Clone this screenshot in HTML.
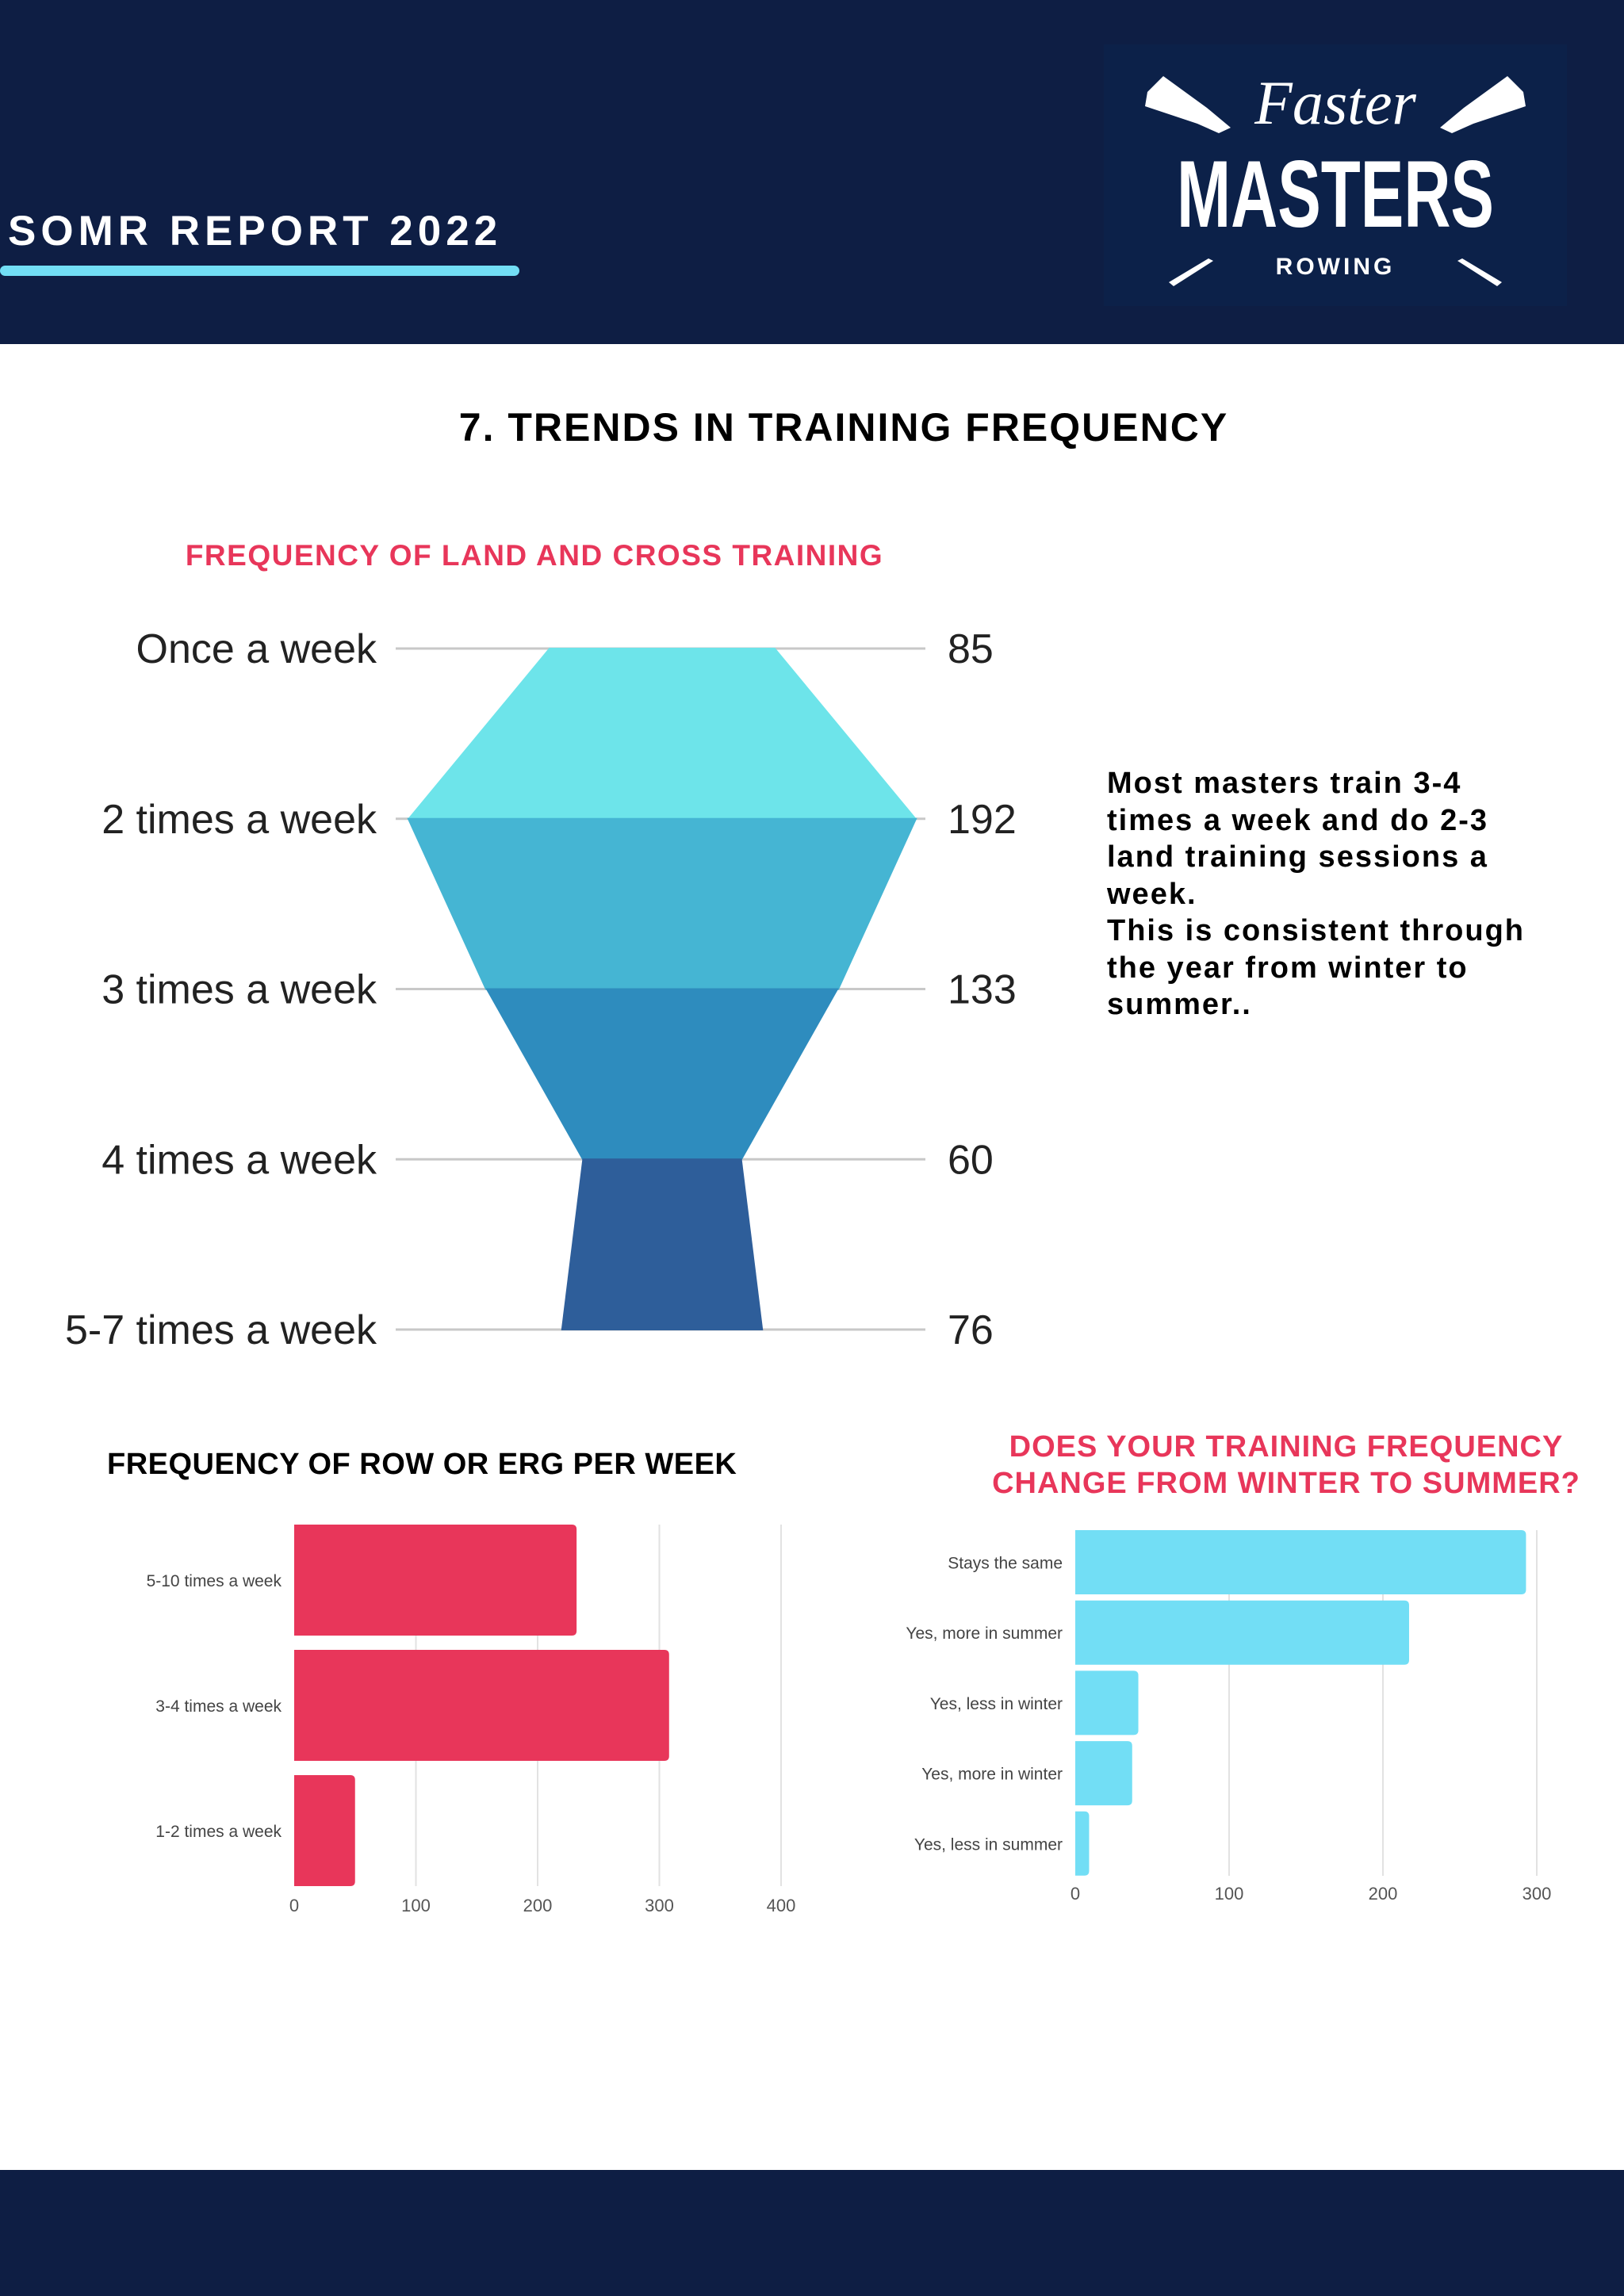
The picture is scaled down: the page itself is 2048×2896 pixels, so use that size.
<!DOCTYPE html>
<html><head><meta charset="utf-8"><style>
body{margin:0;width:2048px;height:2896px;background:#fff;position:relative;overflow:hidden;font-family:"Liberation Sans",sans-serif}
.abs{position:absolute}
</style></head><body>
<div class="abs" style="left:0;top:0;width:2048px;height:434px;background:#0e1e44"></div>
<div class="abs" style="left:10px;top:262px;font-size:53px;font-weight:bold;color:#fff;letter-spacing:6px;line-height:60px">SOMR REPORT 2022</div>
<div class="abs" style="left:0;top:335px;width:655px;height:13px;border-radius:7px;background:#72def5"></div>
<div class="abs" style="left:1392px;top:56px;width:584px;height:330px;background:#0c2149">
 <svg width="584" height="330">
  <g fill="#fff"><polygon points="55,60 75,40 130,80 160,105 145,112 118,100 52,78"/><polygon points="529,60 509,40 454,80 424,105 439,112 466,100 532,78"/>
  <polygon points="82,300 88,305 138,273 132,270"/><polygon points="502,300 496,305 446,273 452,270"/></g>
  <text x="292" y="100" text-anchor="middle" fill="#fff" font-family="Liberation Serif" font-style="italic" font-size="78">Faster</text>
  <text x="292" y="230" text-anchor="middle" fill="#fff" font-family="Liberation Sans" font-weight="bold" font-size="120" textLength="400" lengthAdjust="spacingAndGlyphs">MASTERS</text>
  <text x="292" y="290" text-anchor="middle" fill="#fff" font-family="Liberation Sans" font-weight="bold" font-size="30" letter-spacing="4">ROWING</text>
 </svg>
</div>
<div class="abs" style="left:0;top:2737px;width:2048px;height:159px;background:#0e1e44"></div>
<div class="abs" style="left:0;width:2128px;top:510px;text-align:center;font-size:50px;font-weight:bold;color:#000;letter-spacing:2px">7. TRENDS IN TRAINING FREQUENCY</div>
<div class="abs" style="left:174px;width:1000px;top:680px;text-align:center;font-size:37px;font-weight:bold;color:#e8365a;letter-spacing:1.5px">FREQUENCY OF LAND AND CROSS TRAINING</div>
<div class="abs" style="left:1396px;top:965px;font-size:38px;font-weight:bold;line-height:46.5px;color:#000;width:560px;letter-spacing:2px">Most masters train 3-4 times a week and do 2-3 land training sessions a week.<br>This is consistent through the year from winter to summer..</div>
<svg class="abs" id="funnel" style="left:0;top:0" width="1300" height="1800"></svg>
<div class="abs" style="left:135px;top:1826px;font-size:38px;font-weight:bold;color:#000;letter-spacing:0.5px">FREQUENCY OF ROW OR ERG PER WEEK</div>
<svg class="abs" id="bar1" style="left:0;top:1900px" width="1100" height="560"></svg>
<div class="abs" style="left:1122px;width:1000px;top:1802px;text-align:center;font-size:38px;font-weight:bold;color:#e8365a;line-height:46px;letter-spacing:1px">DOES YOUR TRAINING FREQUENCY<br>CHANGE FROM WINTER TO SUMMER?</div>
<svg class="abs" id="bar2" style="left:1040px;top:1900px" width="1008" height="540"></svg>
<script>
const funnelCats=["Once a week","2 times a week","3 times a week","4 times a week","5-7 times a week"];
const funnelVals=[85,192,133,60,76];
const rowCats=["5-10 times a week","3-4 times a week","1-2 times a week"];
const rowVals=[232,308,50];
const rowTicks=[0,100,200,300,400];
const seasonCats=["Stays the same","Yes, more in summer","Yes, less in winter","Yes, more in winter","Yes, less in summer"];
const seasonVals=[293,217,41,37,9];
const seasonTicks=[0,100,200,300];
const NS="http://www.w3.org/2000/svg";
function mk(p,t,a){const e=document.createElementNS(NS,t);for(const k in a)e.setAttribute(k,a[k]);p.appendChild(e);return e;}
(function(){
 const s=document.getElementById('funnel');const cx=835,y0=818,step=214.75,k=3.35;
 const cols=["#6de4ea","#45b5d3","#2e8cbe","#2e5e9a"];
 const yv=i=>y0+i*step;
 funnelCats.forEach((c,i)=>{
  const l=mk(s,'line',{x1:499,x2:1167,y1:yv(i),y2:yv(i),stroke:'#c8c8c8','stroke-width':3});
  
  
  const t=mk(s,'text',{x:475,y:yv(i)+18,'text-anchor':'end','font-size':52,fill:'#222','font-family':'Liberation Sans'});t.textContent=c;
  
  
  const v=mk(s,'text',{x:1195,y:yv(i)+18,'font-size':52,fill:'#222','font-family':'Liberation Sans'});v.textContent=funnelVals[i];
  
  
 });
 for(let i=0;i<funnelVals.length-1;i++){
  const w1=funnelVals[i]*k/2,w2=funnelVals[i+1]*k/2;
  const p=mk(s,'polygon',{points:`${cx-w1},${yv(i)-1} ${cx+w1},${yv(i)-1} ${cx+w2},${yv(i+1)+1} ${cx-w2},${yv(i+1)+1}`,fill:cols[i]});
  
  
 }
})();
function hbar(id,cats,vals,ticks,o){
 const s=document.getElementById(id);const X=v=>o.x0+v*o.ppu;
 ticks.forEach(t=>{
  if(t>0){const g=mk(s,'line',{x1:X(t),x2:X(t),y1:o.top,y2:o.bot,stroke:'#e2e2e2','stroke-width':2});
  
  }
  const tx=mk(s,'text',{x:X(t),y:o.tickY,'text-anchor':'middle','font-size':22,fill:'#555','font-family':'Liberation Sans'});tx.textContent=t;
  
  
 });
 cats.forEach((c,i)=>{
  const y=o.top+i*o.pitch;
  const r=mk(s,'path',{d:`M${o.x0},${y} H${X(vals[i])-6} Q${X(vals[i])},${y} ${X(vals[i])},${y+6} V${y+o.h-6} Q${X(vals[i])},${y+o.h} ${X(vals[i])-6},${y+o.h} H${o.x0} Z`,fill:o.color});
  
  
  const t=mk(s,'text',{x:o.x0-16,y:y+o.h/2+8,'text-anchor':'end','font-size':21,fill:'#444','font-family':'Liberation Sans'});t.textContent=c;
  
  
 });
}
hbar('bar1',rowCats,rowVals,rowTicks,{x0:371,ppu:1.535,top:23,bot:479,pitch:158,h:140,tickY:511,color:'#e8365a'});
hbar('bar2',seasonCats,seasonVals,seasonTicks,{x0:316,ppu:1.94,top:30,bot:466,pitch:88.7,h:81,tickY:496,color:'#72def5'});
</script>
</body></html>
